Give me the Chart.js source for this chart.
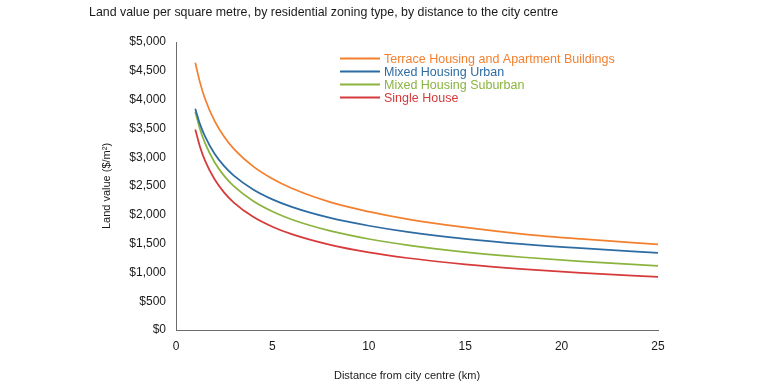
<!DOCTYPE html>
<html>
<head>
<meta charset="utf-8">
<script src="https://cdn.jsdelivr.net/npm/chart.js@4"></script>
<style>
  html, body { margin: 0; padding: 0; background: #fff; }
  #wrap { width: 760px; height: 386px; position: relative; }
</style>
</head>
<body>
<div id="wrap"><canvas id="landChart" width="760" height="386"></canvas></div>
<script>
// distance from city centre (km)
const distances = [1, 1.25, 1.5, 2, 2.5, 3, 4, 5, 6, 8, 10, 12, 15, 18, 21, 25];

// land value ($/m2)
const terraceValues = [4640, 4290, 4020, 3630, 3355, 3145, 2840, 2625, 2460, 2220, 2055, 1925, 1780, 1665, 1580, 1486];
const mixedUrbanValues = [3840, 3570, 3365, 3060, 2845, 2680, 2440, 2268, 2137, 1945, 1810, 1704, 1584, 1492, 1420, 1341];
const mixedSuburbanValues = [3790, 3480, 3250, 2913, 2676, 2496, 2238, 2056, 1918, 1720, 1580, 1474, 1354, 1263, 1191, 1115];
const singleHouseValues = [3480, 3175, 2945, 2616, 2386, 2213, 1965, 1793, 1664, 1478, 1347, 1250, 1140, 1058, 993, 923];

const seriesNames = ['Terrace Housing and Apartment Buildings', 'Mixed Housing Urban', 'Mixed Housing Suburban', 'Single House'];
const seriesColours = ['#F4802F', '#2D6BA3', '#8BB43E', '#D63A3A'];

const xTicks = [0, 5, 10, 15, 20, 25];
const yMax = 5000;
const yStep = 500;

const chartTitle = 'Land value per square metre, by residential zoning type, by distance to the city centre';
const xTitle = 'Distance from city centre (km)';
const yTitle = 'Land value ($/m\u00B2)';

const FONT = '"Liberation Sans", Arial, sans-serif';

function toPoints(values) {
    return values.map((v, i) => ({ x: distances[i], y: v }));
}

const allValues = [terraceValues, mixedUrbanValues, mixedSuburbanValues, singleHouseValues];

// title, legend and x axis title drawn by hand
const decorations = {
    id: 'decorations',
    afterDraw(chart) {
        const ctx = chart.ctx;
        ctx.save();
        ctx.textBaseline = 'middle';
        ctx.font = '12.4px ' + FONT;
        ctx.fillStyle = '#1a1a1a';
        ctx.textAlign = 'left';
        ctx.fillText(chartTitle, 89, 13);

        ctx.font = '11px ' + FONT;
        ctx.textAlign = 'center';
        ctx.fillStyle = '#1a1a1a';
        ctx.fillText(xTitle, 407, 376);

        ctx.font = '12.5px ' + FONT;
        ctx.textAlign = 'left';
        chart.data.datasets.forEach((ds, i) => {
            const y = 58.5 + i * 13;
            ctx.strokeStyle = ds.borderColor;
            ctx.lineWidth = 2;
            ctx.beginPath();
            ctx.moveTo(340, y);
            ctx.lineTo(380, y);
            ctx.stroke();
            ctx.fillStyle = ds.borderColor;
            ctx.fillText(ds.label, 384, y + 1);
        });
        ctx.restore();
    }
};

const ctx = document.getElementById('landChart').getContext('2d');
const landChart = new Chart(ctx, {
    type: 'line',
    data: {
        datasets: seriesNames.map((name, i) => ({
            label: name,
            data: toPoints(allValues[i]),
            borderColor: seriesColours[i],
            backgroundColor: seriesColours[i],
            borderWidth: 1.75,
            pointRadius: 0,
            cubicInterpolationMode: 'monotone',
            fill: false
        }))
    },
    options: {
        responsive: false,
        animation: false,
        layout: { padding: { left: 96, top: 42, right: 102, bottom: 0 } },
        plugins: {
            legend: { display: false },
            tooltip: { enabled: false }
        },
        scales: {
            x: {
                type: 'linear',
                min: 0,
                max: 25,
                afterBuildTicks: (s) => { s.ticks = xTicks.map(v => ({ value: v })); },
                afterFit: (s) => { s.height = 56; },
                grid: { display: false, drawTicks: false },
                border: { display: true, color: '#6b6b6b', width: 1 },
                ticks: {
                    padding: 9,
                    color: '#1a1a1a',
                    font: { family: FONT, size: 12 },
                    maxRotation: 0
                }
            },
            y: {
                min: 0,
                max: yMax,
                afterFit: (s) => { s.width = 80; },
                grid: { display: false, drawTicks: false },
                border: { display: true, color: '#6b6b6b', width: 1 },
                ticks: {
                    stepSize: yStep,
                    padding: 10,
                    color: '#1a1a1a',
                    font: { family: FONT, size: 12 },
                    callback: (v) => '$' + v.toLocaleString('en-US')
                },
                title: {
                    display: true,
                    text: yTitle,
                    color: '#1a1a1a',
                    font: { family: FONT, size: 11 },
                    padding: { top: 4, bottom: 0 }
                }
            }
        }
    },
    plugins: [decorations]
});
</script>
</body>
</html>
